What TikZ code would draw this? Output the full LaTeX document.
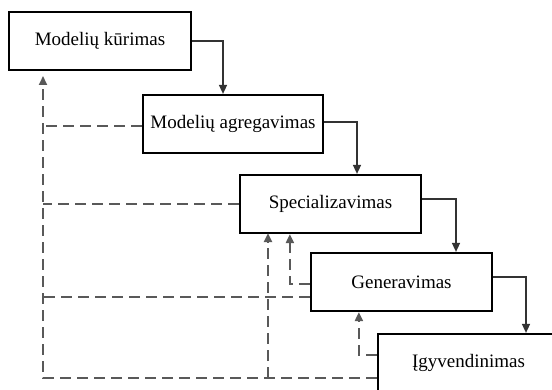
\documentclass[tikz,border=0pt]{standalone}
\usepackage{fontspec}
\setmainfont{Liberation Serif}
\usetikzlibrary{arrows.meta}
\begin{document}
\begin{tikzpicture}[x=1pt,y=-1pt,
  stage/.style={draw=black, line width=2.2pt, fill=white, rectangle, inner sep=0pt,
    minimum width=181pt, minimum height=58pt, font=\fontsize{19}{22}\selectfont},
  flow/.style={draw=black!80, line width=1.5pt, -{Triangle[length=9pt,width=8pt]}},
  fb/.style={draw=black!65, line width=2pt, dash pattern=on 11pt off 6pt},
  fbarrow/.style={fb, -{Triangle[length=9pt,width=8pt]}}]
  \clip (0,0) rectangle (552,390);
  \fill[white] (0,0) rectangle (552,390);

  % process stages
  \node[stage, minimum width=182pt] (b1) at (100,41) {Modelių kūrimas};
  \node[stage, minimum width=180pt] (b2) at (233,124) {Modelių agregavimas};
  \node[stage] (b3) at (330.5,204) {Specializavimas};
  \node[stage] (b4) at (401.5,282) {Generavimas};
  \node[stage] (b5) at (468.5,363) {Įgyvendinimas};

  % forward flow
  \draw[flow] (b1.east) -| ([xshift=-10pt]b2.north);
  \draw[flow] ([yshift=2pt]b2.east) -| ([xshift=26.5pt]b3.north);
  \draw[flow] ([yshift=5pt]b3.east) -| ([xshift=54.5pt]b4.north);
  \draw[flow] ([yshift=5pt]b4.east) -| ([xshift=57.5pt]b5.north);

  % feedback paths
  \coordinate (top) at (43,76);
  \coordinate (j) at (268,378);
  \draw[fbarrow] ([yshift=-15pt]b5.west) -| (top);
  \draw[fbarrow, shorten >=-1pt] (j) -- (j |- b3.south);
  \draw[fb] ([yshift=-15pt]b4.west) -- ([yshift=-15pt]b4.west -| top);
  \draw[fb] (b3.west) -- (b3.west -| top);
  \draw[fb] ([yshift=-2pt]b2.west) -- ([yshift=-2pt]b2.west -| top);
  \draw[fbarrow] ([yshift=-2pt]b4.west) -| ([xshift=-20pt]b4.west |- b3.south);
  \draw[fbarrow] ([yshift=8pt]b5.west) -| ([xshift=-18pt]b5.west |- b4.south);
\end{tikzpicture}
\end{document}
